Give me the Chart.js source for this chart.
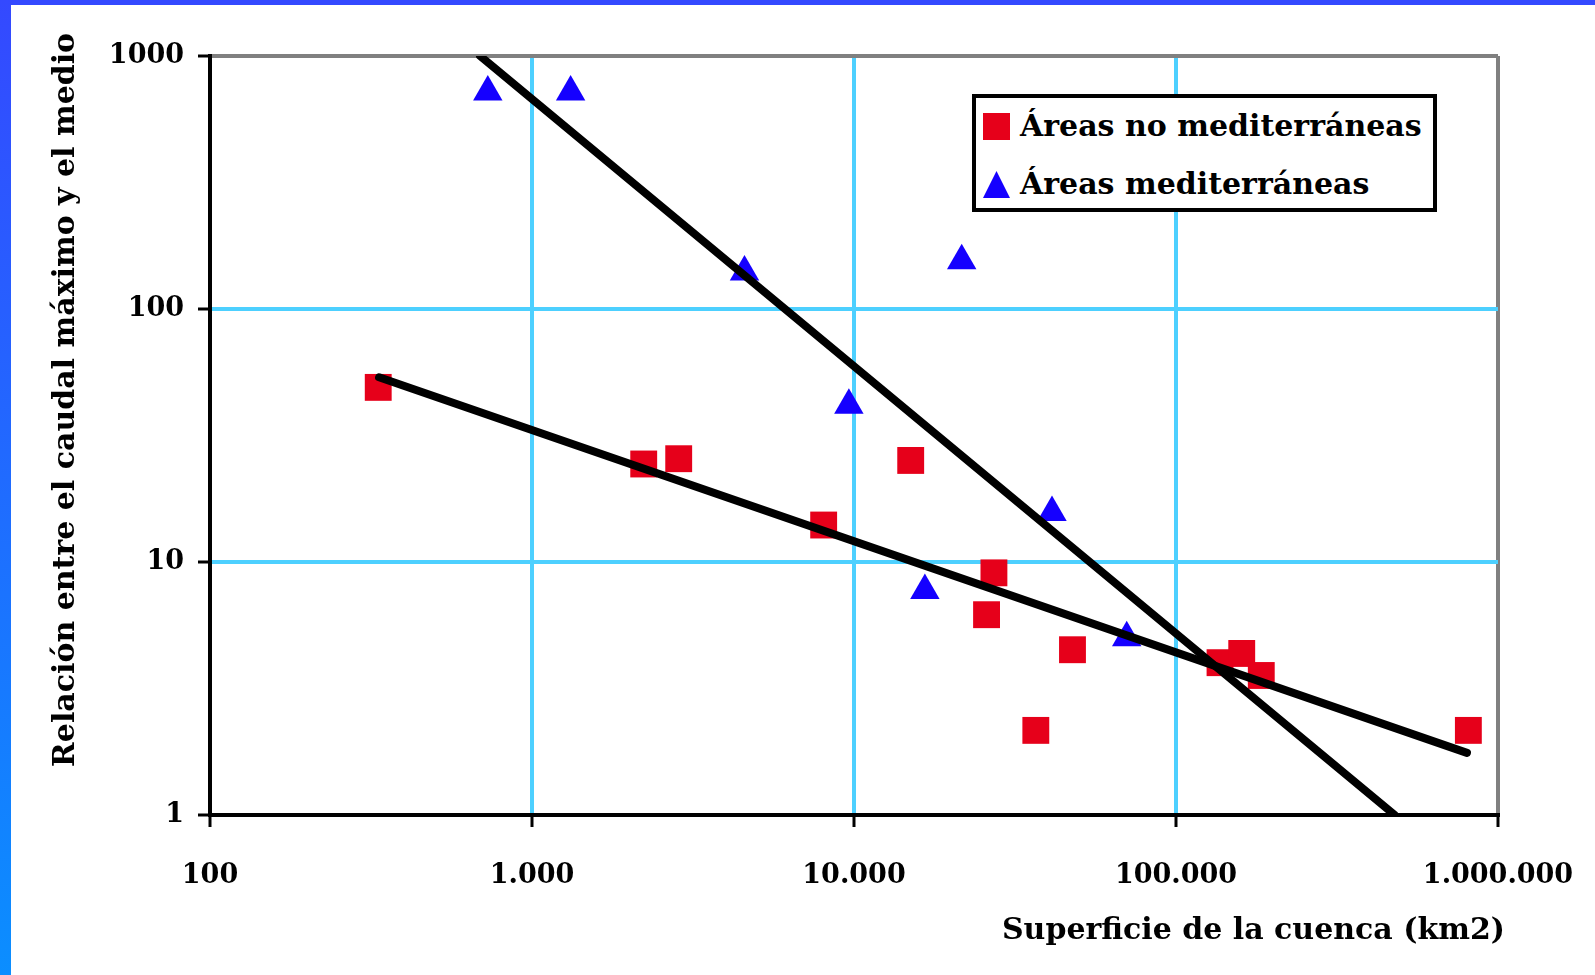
<!DOCTYPE html>
<html>
<head>
<meta charset="utf-8">
<script src="https://cdn.jsdelivr.net/npm/chart.js@4/dist/chart.umd.min.js"></script>
<style>
  body { margin: 0; background: #fff; }
  #wrap { position: relative; width: 1595px; height: 975px; overflow: hidden; }
  #topBar { position: absolute; left: 0; top: 0; width: 1595px; height: 5px; background: #3449ff; z-index: 2; }
  #leftBar { position: absolute; left: 0; top: 0; width: 11px; height: 975px; background: linear-gradient(#3449ff, #0b8eff); z-index: 2; }
  #legend {
    position: absolute; left: 972px; top: 94px; width: 465px; height: 118px;
    box-sizing: border-box; border: 4px solid #000; background: #fff;
    font: bold 30px "DejaVu Serif"; color: #000;
  }
  .item { position: absolute; left: 7px; height: 30px; line-height: 30px; white-space: nowrap; }
  .item .mark { position: absolute; left: 0; top: 2px; width: 27px; height: 27px; }
  .item .txt { position: absolute; left: 37px; top: 0; }
</style>
</head>
<body>
<div id="wrap">
  <canvas id="chart" width="1595" height="975"></canvas>
  <div id="topBar"></div>
  <div id="leftBar"></div>
  <div id="legend"></div>
</div>
<script>
// ticks
const xTicks = [100, 1000, 10000, 100000, 1000000];
const yTicks = [1, 10, 100, 1000];

// Áreas no mediterráneas (km2, ratio)
const noMedArea = [333, 2223, 2855, 8050, 15000, 27200, 25800, 47700, 36700, 137000, 160000, 184000, 809000];
const noMedRatio = [49.0, 24.4, 25.6, 14.0, 25.2, 9.06, 6.19, 4.50, 2.16, 4.00, 4.35, 3.56, 2.16];

// Áreas mediterráneas
const medArea = [729, 1318, 4570, 9640, 21600, 16600, 41200, 70300];
const medRatio = [721, 721, 140, 41.6, 155, 7.71, 15.7, 5.02];

// trend lines (end points)
const noMedTrendArea = [335, 801000];
const noMedTrendRatio = [53.7, 1.76];
const medTrendArea = [690, 478000];
const medTrendRatio = [1000, 1];

const labels = ["Áreas no mediterráneas", "Áreas mediterráneas"];
const xTitle = "Superficie de la cuenca (km2)";
const yTitle = "Relación entre el caudal máximo y el medio";

const RED = "#e6001a";
const BLUE = "#1500ff";
const GRID = "#4dd0ff";

function toPoints(xs, ys) {
    return xs.map((x, i) => ({ x: x, y: ys[i] }));
}

function dotted(v) {
    return String(v).replace(/\B(?=(\d{3})+(?!\d))/g, ".");
}

const tickFont = { family: "DejaVu Serif", size: 27, weight: "bold" };

// axis titles drawn by hand so they sit where the original has them
const axisTitles = {
    id: "axisTitles",
    afterDraw(chart) {
        const ctx = chart.ctx;
        ctx.save();
        ctx.fillStyle = "#000";
        ctx.font = 'bold 30px "DejaVu Serif"';
        ctx.textBaseline = "middle";
        ctx.textAlign = "right";
        ctx.fillText(xTitle, 1505, 931);
        ctx.translate(66, 400);
        ctx.rotate(-Math.PI / 2);
        ctx.textAlign = "center";
        ctx.fillText(yTitle, 0, 0);
        ctx.restore();
    }
};

const chart = new Chart(document.getElementById("chart").getContext("2d"), {
    type: "scatter",
    data: {
        datasets: [
            {
                label: "trend1",
                data: toPoints(medTrendArea, medTrendRatio),
                showLine: true,
                borderColor: "#000",
                borderWidth: 8,
                borderCapStyle: "round",
                pointRadius: 0,
                clip: 0,
                order: 0,
            },
            {
                label: "trend2",
                data: toPoints(noMedTrendArea, noMedTrendRatio),
                showLine: true,
                borderColor: "#000",
                borderWidth: 8,
                borderCapStyle: "round",
                pointRadius: 0,
                clip: 0,
                order: 0,
            },
            {
                label: labels[0],
                data: toPoints(noMedArea, noMedRatio),
                pointStyle: "rect",
                pointRadius: 19,
                backgroundColor: RED,
                borderWidth: 0,
                order: 2,
            },
            {
                label: labels[1],
                data: toPoints(medArea, medRatio),
                pointStyle: "triangle",
                pointRadius: 17,
                backgroundColor: BLUE,
                borderWidth: 0,
                order: 1,
            },
        ],
    },
    options: {
        responsive: false,
        animation: false,
        devicePixelRatio: 1,
        layout: { padding: { left: 10, top: 56, right: 97, bottom: 0 } },
        plugins: {
            legend: { display: false },
            tooltip: { enabled: false },
        },
        scales: {
            x: {
                type: "logarithmic",
                min: 100,
                max: 1000000,
                afterBuildTicks: (scale) => { scale.ticks = xTicks.map(v => ({ value: v })); },
                afterFit: (scale) => {
                    scale.height = 160;
                    scale.paddingLeft = 0;
                    scale.paddingRight = 0;
                },
                ticks: {
                    color: "#000",
                    font: tickFont,
                    padding: 33,
                    maxRotation: 0,
                    autoSkip: false,
                    callback: (v) => dotted(v),
                },
                grid: {
                    color: (c) => (c.tick && c.tick.value === 1000000 ? "#808080" : GRID),
                    lineWidth: 4,
                    tickColor: "#000",
                    tickLength: 12,
                    tickWidth: 3,
                },
                border: { color: "#000", width: 4 },
            },
            y: {
                type: "logarithmic",
                min: 1,
                max: 1000,
                afterBuildTicks: (scale) => { scale.ticks = yTicks.map(v => ({ value: v })); },
                afterFit: (scale) => {
                    scale.width = 200;
                    scale.paddingTop = 0;
                    scale.paddingBottom = 0;
                },
                ticks: {
                    color: "#000",
                    font: tickFont,
                    padding: 14,
                    autoSkip: false,
                    callback: (v) => String(v),
                },
                grid: {
                    color: (c) => (c.tick && c.tick.value === 1000 ? "#808080" : GRID),
                    lineWidth: 4,
                    tickColor: "#000",
                    tickLength: 12,
                    tickWidth: 3,
                },
                border: { color: "#000", width: 4 },
            },
        },
    },
    plugins: [axisTitles],
});

// legend box built from the two marker datasets
const legendDiv = document.getElementById("legend");
chart.data.datasets.slice(2).forEach((ds, i) => {
    const item = document.createElement("div");
    item.className = "item";
    item.style.top = (i === 0 ? 13 : 71) + "px";
    const mark = document.createElement("span");
    mark.className = "mark";
    mark.style.background = ds.backgroundColor;
    if (ds.pointStyle === "triangle") mark.style.clipPath = "polygon(50% 0, 100% 100%, 0 100%)";
    const txt = document.createElement("span");
    txt.className = "txt";
    txt.textContent = ds.label;
    item.appendChild(mark);
    item.appendChild(txt);
    legendDiv.appendChild(item);
});
</script>
</body>
</html>
